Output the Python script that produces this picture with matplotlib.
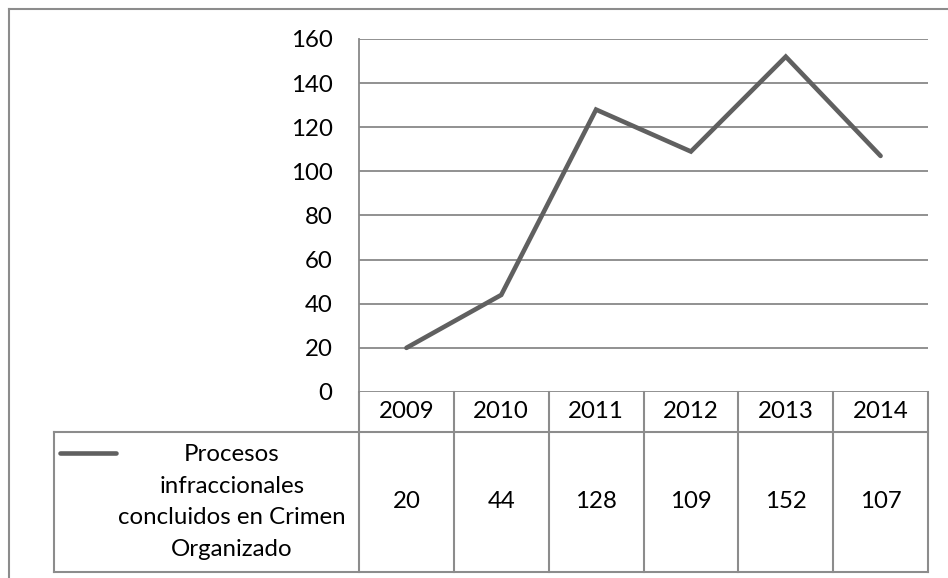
import numpy as np
import matplotlib.pyplot as plt
from matplotlib.lines import Line2D
from matplotlib.transforms import blended_transform_factory

plt.rcParams['font.family'] = ['Lato', 'DejaVu Sans']

# data
years = ['2009', '2010', '2011', '2012', '2013', '2014']
values = [20, 44, 128, 109, 152, 107]
series_name = 'Procesos\ninfraccionales\nconcluidos en Crimen\nOrganizado'
yticks = [0, 20, 40, 60, 80, 100, 120, 140, 160]

W, H = 948, 578
fig = plt.figure(figsize=(W / 100, H / 100), dpi=100)
fs = 17.3

# plot area in pixels
left, right, top, bottom = 359, 928, 39, 392
ax = fig.add_axes([left / W, 1 - bottom / H, (right - left) / W, (bottom - top) / H])

line_col = '#606060'
grid_col = '#888888'
x = np.arange(len(years))
ax.plot(x, values, color=line_col, lw=3.3, solid_capstyle='round', solid_joinstyle='miter')
ax.set_xlim(-0.5, len(years) - 0.5)
ax.set_ylim(0, 160)
ax.set_yticks(yticks)
ax.set_yticklabels([str(t) for t in yticks], fontsize=fs)
ax.tick_params(axis='y', length=0, pad=19)
ax.set_xticks([])
ax.yaxis.grid(True, color=grid_col, lw=1.3)
ax.set_axisbelow(True)
for s in ['top', 'right', 'bottom']:
    ax.spines[s].set_visible(False)
ax.spines['left'].set_color(grid_col)
ax.spines['left'].set_linewidth(1.3)

# table below the axis
px_per_unit = (right - left) / len(years)
leg_left = -0.5 - (left - 54) / px_per_unit
row1 = -(432 - bottom) / (bottom - top)
row2 = -(572 - bottom) / (bottom - top)
tr = blended_transform_factory(ax.transData, ax.transAxes)
tcol = '#8c8c8c'

def seg(xs, ys):
    ax.add_line(Line2D(xs, ys, transform=tr, color=tcol, lw=1.5, clip_on=False))

seg([-0.5, -0.5], [0, row2])
for i in range(len(years)):
    seg([i + 0.5, i + 0.5], [0, row2])
seg([leg_left, len(years) - 0.5], [row1, row1])
seg([leg_left, len(years) - 0.5], [row2, row2])
seg([leg_left, leg_left], [row1, row2])

for i, (yr, v) in enumerate(zip(years, values)):
    ax.text(i, row1 / 2, yr, transform=tr, ha='center', va='center', fontsize=fs)
    ax.text(i, (row1 + row2) / 2, str(v), transform=tr, ha='center', va='center', fontsize=fs)

# legend key and series name
key_y = -(453 - bottom) / (bottom - top)
ax.add_line(Line2D([leg_left + 6 / px_per_unit, leg_left + 62 / px_per_unit], [key_y, key_y],
                   transform=tr, color=line_col, lw=3.3, solid_capstyle='round', clip_on=False))
ax.text(leg_left + 178 / px_per_unit, (row1 + row2) / 2, series_name, transform=tr,
        ha='center', va='center', fontsize=fs, linespacing=1.62)

# outer chart border (left and top)
fig.add_artist(Line2D([9 / W, 9 / W], [0, 1 - 9 / H], color=tcol, lw=1.5))
fig.add_artist(Line2D([9 / W, 1], [1 - 9 / H, 1 - 9 / H], color=tcol, lw=1.5))

fig.savefig('out.png', dpi=100)
